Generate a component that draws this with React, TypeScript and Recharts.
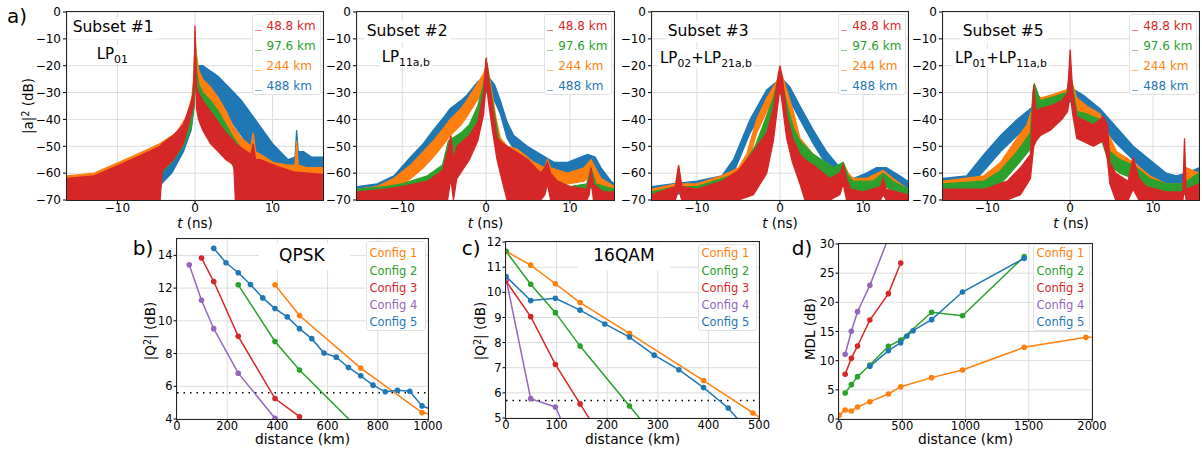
import React from "react";
import { ComposedChart, Area, Line, XAxis, YAxis, CartesianGrid, ReferenceLine } from "recharts";

type Band = [number, number, number][]; // [t, low dB, high dB]
type Pt = [number, number][]; // [distance km, value]

const BLUE = "#1f77b4";
const ORANGE = "#ff7f0e";
const GREEN = "#2ca02c";
const RED = "#d62728";
const PURPLE = "#9467bd";
const GRID = "#dcdcdc";

const distLabels = ["48.8 km", "97.6 km", "244 km", "488 km"];
const distColors = [RED, GREEN, ORANGE, BLUE];
const configLabels = ["Config 1", "Config 2", "Config 3", "Config 4", "Config 5"];
const configColors = [ORANGE, GREEN, RED, PURPLE, BLUE];

const tTicks = [-10, 0, 10];
const dbTicks = [-70, -60, -50, -40, -30, -20, -10, 0];
const qpskXTicks = [0, 200, 400, 600, 800, 1000];
const qpskYTicks = [4, 6, 8, 10, 12, 14];
const qamXTicks = [0, 100, 200, 300, 400, 500];
const qamYTicks = [5, 6, 7, 8, 9, 10, 11, 12];
const mdlXTicks = [0, 500, 1000, 1500, 2000];
const mdlYTicks = [0, 5, 10, 15, 20, 25, 30];

// ---- a) impulse response envelopes (low/high of the noisy traces) ----
const p1Blue: Band = [[-16.5,-70,-65],[-12,-70,-64],[-8,-69,-62],[-5,-66,-57],[-3,-60,-52],[-1.5,-52,-45],[-0.5,-44,-37],[-0.1,-35,-26],[0,-22,-12],[0.3,-30,-20],[1,-31,-20],[2,-32,-22],[3,-35,-24],[4,-38,-27],[5,-42,-30],[6,-46,-33],[7,-50,-37],[8,-54,-41],[9,-57,-45],[10,-59,-49],[11,-60,-52],[12,-61,-55],[12.9,-60,-54],[13.1,-58,-44],[13.3,-60,-52],[14,-60,-52],[15,-61,-54],[16.5,-61,-54]];
const p1Orange: Band = [[-16.5,-67,-61],[-13,-66,-60],[-9,-63,-55],[-6.7,-60,-52],[-4.5,-56,-49],[-2.4,-51,-45],[-1.1,-45,-39],[-0.4,-38,-32],[-0.1,-32,-22],[0,-15,-7],[0.15,-25,-15],[0.5,-32,-22],[1,-35,-25],[2,-37,-28],[3,-41,-32],[4,-46,-37],[5,-51,-43],[6,-54,-47],[7.2,-56,-50],[7.5,-54,-45],[7.8,-57,-52],[9,-60,-54],[10,-62,-56],[12,-63,-57],[12.9,-63,-57],[13.1,-62,-48],[13.3,-63,-57],[14.5,-64,-58],[16.5,-65,-58]];
const p1Green: Band = [[-16.5,-70,-66],[-12,-70,-66],[-8,-68,-63],[-5,-62,-56],[-3,-56,-49],[-1.5,-50,-44],[-0.5,-43,-37],[-0.1,-34,-24],[0,-18,-9],[0.2,-30,-22],[0.5,-36,-27],[1,-38,-30],[2,-42,-33],[3,-47,-37],[4,-52,-42],[5,-58,-47],[6,-62,-51],[7,-65,-54],[8,-68,-57],[10,-70,-59],[12,-70,-60],[14,-69,-60],[16.5,-68,-61]];
const p1Red: Band = [[-16.5,-70,-62],[-13,-70,-61],[-9,-70,-56],[-6.7,-70,-53],[-4.5,-70,-50],[-4.2,-59,-49],[-2.8,-55,-46],[-1.5,-49,-42],[-0.65,-40,-35],[-0.2,-35,-30],[-0.05,-25,-15],[0,-12,-5],[0.05,-25,-15],[0.2,-36,-28],[0.45,-40,-30],[1,-44,-33],[2,-49,-37],[3,-52,-41],[4,-55,-45],[5,-57,-48],[5.2,-70,-49],[6.2,-70,-51],[7.2,-70,-53],[7.5,-70,-49],[7.8,-70,-55],[8.4,-70,-55],[10.6,-70,-57.5],[12.7,-70,-59.5],[16.5,-70,-60.5]];

const p2Blue: Band = [[-15.4,-70,-65],[-13,-69,-64],[-11,-66,-61],[-9,-60,-54],[-7.5,-55,-49],[-6.3,-50,-44],[-5,-45,-39],[-4.3,-42,-36],[-3,-38,-33],[-2.3,-36,-31],[-1,-31,-26],[0,-30,-24],[0.5,-30,-25],[1,-33,-27],[1.7,-38,-33],[2.5,-47,-41],[3.3,-51,-46],[4.9,-55,-50],[6.5,-58,-53],[8.1,-61,-56],[9.7,-61,-56],[11.3,-59,-54],[12.1,-59,-53],[13,-60,-54],[13.7,-63,-58],[14.9,-67,-63],[15.3,-68,-64]];
const p2Orange: Band = [[-15.4,-70,-66],[-13,-69,-65],[-11,-67,-62],[-9,-62,-57],[-7.5,-58,-52],[-6.3,-54,-48],[-5,-49,-43],[-4.3,-46,-40],[-3,-42,-36],[-2.3,-39,-33],[-1.1,-33,-27],[-0.3,-29,-23],[0.1,-26,-19],[0.6,-34,-28],[1.2,-46,-40],[1.7,-53,-47],[2.5,-55,-50],[3.7,-57,-51],[5.7,-61,-56],[7,-62,-58],[7.3,-60,-55],[7.7,-62,-58],[9.7,-64,-60],[11.7,-63,-58],[12.5,-61,-55],[13.2,-64,-59],[13.7,-67,-62],[15.3,-68,-65]];
const p2Green: Band = [[-15.4,-70,-66],[-12,-69,-65],[-10,-68,-64],[-7,-66,-61],[-5.2,-62,-57],[-4.5,-56,-48],[-3,-51,-45],[-2,-48,-42],[-1,-42,-35],[-0.3,-34,-27],[0.1,-27,-19],[0.5,-35,-28],[1,-44,-38],[1.5,-52,-47],[2,-56,-51],[4,-60,-55],[6,-64,-59],[7,-64,-60],[7.3,-62,-56],[7.7,-65,-61],[8.5,-67,-63],[10,-68,-65],[12,-68,-64],[12.5,-65,-58],[13.1,-68,-64],[15.3,-69,-66]];
const p2Red: Band = [[-15.4,-70,-67],[-12,-70,-66],[-10,-70,-65],[-7,-70,-63],[-5.2,-70,-59],[-4.6,-70,-52],[-4.2,-62,-46],[-3.9,-70,-55],[-3.5,-62,-50],[-2,-55,-46],[-1,-48,-41],[-0.3,-38,-30],[0,-26,-17],[0.3,-34,-25],[0.8,-45,-36],[1.3,-55,-47],[2,-64,-49],[2.5,-70,-50],[3,-70,-51],[4,-70,-53],[5,-70,-55],[6.5,-70,-60],[7,-68,-58],[7.3,-64,-56],[7.7,-70,-60],[8.5,-70,-63],[10,-70,-65],[12,-70,-66],[12.3,-68,-62],[12.5,-62,-58],[12.8,-70,-64],[14,-70,-67],[15.3,-70,-67]];

const p3Blue: Band = [[-15.4,-69,-65],[-13,-68,-64],[-10,-67,-63],[-7,-65,-61],[-5.6,-60,-55],[-3.6,-45,-40],[-1.6,-34,-29],[-0.4,-31,-26],[0.3,-30,-25],[1.2,-33,-28],[2.4,-40,-35],[4,-49,-44],[5.6,-57,-52],[7.2,-63,-58],[8.8,-66,-62],[10.4,-65,-60],[11.6,-63,-58],[12.8,-63,-58],[14.4,-66,-61],[15.4,-67,-63]];
const p3Orange: Band = [[-15.4,-70,-66],[-12.5,-68,-64],[-12.2,-64,-58],[-11.9,-68,-64],[-10,-68,-64],[-7,-66,-61],[-5,-63,-58],[-4,-58,-53],[-2.8,-45,-40],[-1.6,-37,-32],[-0.4,-31,-26],[0.1,-28,-22],[0.8,-34,-29],[1.6,-42,-37],[2.4,-52,-47],[4,-58,-53],[6.4,-63,-58],[7.3,-61,-57],[7.6,-60,-56],[8.2,-64,-60],[8.8,-66,-62],[10.4,-66,-62],[12.4,-63,-59],[13.6,-66,-62],[15.4,-69,-66]];
const p3Green: Band = [[-15.4,-70,-67],[-12.5,-69,-65],[-12.2,-64,-58],[-11.9,-69,-65],[-10,-69,-65],[-7,-67,-62],[-5,-64,-60],[-3,-55,-50],[-2,-47,-42],[-0.8,-38,-32],[0,-29,-23],[0.8,-40,-34],[1.6,-49,-43],[2.4,-54,-48],[4,-59,-53],[6.4,-63,-58],[7.6,-60,-56],[8.2,-65,-61],[8.8,-67,-63],[11.2,-67,-63],[12.4,-64,-60],[13.6,-67,-63],[15.4,-69,-66]];
const p3Red: Band = [[-15.4,-70,-68],[-12.6,-70,-65],[-12.2,-66,-57],[-11.8,-70,-65],[-10,-70,-66],[-7,-70,-63],[-5,-70,-59],[-3.2,-68,-52],[-1.6,-60,-45],[-0.8,-48,-36],[-0.2,-33,-23],[0,-27,-20],[0.3,-35,-25],[0.8,-47,-38],[1.5,-56,-47],[2.4,-64,-53],[3,-70,-55],[4,-70,-57],[6,-70,-62],[7.2,-68,-60],[7.6,-64,-57],[8,-70,-62],[8.5,-70,-66],[10,-70,-67],[12.1,-70,-65],[12.4,-68,-62],[12.8,-70,-66],[15.4,-70,-68]];

const p4Blue: Band = [[-15.35,-67,-62],[-12.5,-66,-61],[-10.4,-59,-53],[-8.4,-52,-46],[-6.4,-46,-40],[-4.4,-40,-35],[-2.4,-37,-32],[-0.4,-35,-30],[0,-33,-27],[0.5,-35,-29],[1.6,-37,-31],[3.6,-42,-36],[5.6,-49,-43],[7.6,-55,-50],[9.6,-61,-55],[11.6,-65,-60],[12.8,-66,-61],[14,-65,-60],[15.55,-63,-58]];
const p4Orange: Band = [[-15.35,-68,-63],[-10.4,-66,-61],[-8.4,-61,-56],[-6.4,-53,-47],[-5.2,-47,-42],[-4.6,-42,-36],[-4.4,-36,-30],[-3.5,-37,-32],[-2.4,-36,-31],[-0.4,-34,-29],[0,-30,-24],[0.4,-34,-28],[0.8,-37,-32],[2,-40,-35],[3.6,-43,-38],[4.4,-50,-44],[5.6,-57,-52],[7.6,-61,-56],[9.6,-66,-61],[11.6,-68,-64],[13.6,-68,-64],[14,-66,-58],[15.55,-65,-60]];
const p4Green: Band = [[-15.35,-69,-64],[-10.4,-68,-63],[-8.4,-64,-59],[-6.4,-57,-52],[-4.8,-51,-45],[-4.5,-45,-30],[-4.3,-38,-27],[-3.6,-38,-33],[-2.4,-37,-32],[-0.4,-35,-30],[0,-30,-22],[0.4,-36,-30],[0.8,-42,-37],[2,-43,-38],[3.6,-46,-40],[4.8,-57,-52],[6,-60,-55],[7.6,-62,-57],[9.6,-67,-62],[11.6,-68,-64],[13.6,-68,-64],[15.55,-66,-60]];
const p4Red: Band = [[-15.35,-70,-66],[-10.4,-70,-66],[-7.6,-70,-63],[-6,-68,-58],[-4.8,-62,-53],[-4.4,-50,-27],[-4.1,-48,-37],[-3.6,-46,-36],[-2.4,-44,-35],[-1,-40,-33],[-0.3,-37,-30],[0,-30,-14],[0.3,-38,-30],[0.8,-47,-39],[2.8,-50,-42],[4,-48,-39],[4.5,-55,-42],[4.8,-64,-56],[5.5,-70,-60],[6,-70,-61],[7,-70,-63],[7.6,-66,-54],[8.3,-70,-62],[9.2,-70,-65],[11.6,-70,-67],[13.6,-70,-67],[13.8,-66,-47],[14,-70,-66],[15.55,-70,-64]];

// ---- b) QPSK ----
const qpsk1: Pt = [[390.4,12.2],[488,10.32],[732,7.11],[976,4.39],[1220,3.77]];
const qpsk2: Pt = [[244,12.2],[390.4,8.74],[488,6.99],[732,3.27]];
const qpsk3: Pt = [[97.6,13.84],[146.4,12.4],[244,9.05],[390.4,5.25],[488,4.14]];
const qpsk4: Pt = [[48.8,13.43],[97.6,11.26],[146.4,9.52],[244,6.8],[390.4,4.05]];
const qpsk5: Pt = [[146.4,14.43],[195.2,13.55],[244,12.94],[292.8,12.22],[341.6,11.4],[390.4,10.75],[439.2,10.24],[488,9.52],[536.8,8.91],[585.6,8.03],[634.4,7.78],[683.2,7.15],[732,6.64],[780.8,6.07],[829.6,5.66],[878.4,5.76],[927.2,5.7],[976,4.8],[1024.8,4.52]];

// ---- c) 16QAM ----
const qam1: Pt = [[0,11.63],[48.8,11.08],[97.6,10.34],[146.4,9.59],[244,8.37],[390.4,6.49],[488,5.2],[536.8,4.56]];
const qam2: Pt = [[0,11.63],[48.8,10.32],[97.6,9.19],[146.4,7.86],[244,5.48],[292.8,4.29]];
const qam3: Pt = [[0,10.45],[48.8,9.03],[97.6,7.13],[146.4,5.56],[195.2,4.0]];
const qam4: Pt = [[0,10.55],[48.8,5.77],[97.6,5.44],[146.4,3.29]];
const qam5: Pt = [[0,10.63],[48.8,9.67],[97.6,9.76],[146.4,9.29],[195.2,8.74],[244,8.22],[292.8,7.5],[341.6,6.92],[390.4,6.21],[439.2,5.4],[488,4.25]];

// ---- d) MDL ----
const mdl1: Pt = [[0,0.63],[48.8,1.54],[97.6,1.37],[146.4,2.06],[244,2.97],[390.4,4.29],[488,5.54],[732,7.09],[976,8.4],[1464,12.29],[1952,14.0],[2440,14.4]];
const mdl2: Pt = [[48.8,4.46],[97.6,5.89],[146.4,7.26],[244,9.26],[390.4,12.46],[488,13.54],[732,18.29],[976,17.71],[1464,27.83]];
const mdl3: Pt = [[48.8,7.66],[97.6,10.4],[146.4,12.51],[244,16.97],[390.4,21.49],[488,26.74]];
const mdl4: Pt = [[48.8,11.09],[97.6,15.03],[146.4,18.4],[244,22.91],[390.4,31.0]];
const mdl5: Pt = [[244,9.03],[390.4,11.71],[488,13.09],[536.8,14.23],[585.6,15.14],[732,17.03],[976,21.77],[1464,27.54]];

const fmt = (v: number) => (v < 0 ? `\u2212${Math.abs(v)}` : `${v}`);
const tickStyle = { fontSize: 12, fill: "#000" };
const bottomTick = { fontSize: 11.5, fill: "#000" };

function Txt({ x, base, size, color = "#000", bg, pad = 0, children }: any) {
  return (
    <div
      style={{
        position: "absolute",
        left: x - pad,
        top: base - 0.846 * size - pad,
        fontSize: size,
        lineHeight: 1,
        color,
        whiteSpace: "nowrap",
        background: bg,
        padding: pad,
      }}
    >
      {children}
    </div>
  );
}

function Box({ l, t, r, b, border }: any) {
  return (
    <div
      style={{
        position: "absolute",
        left: l,
        top: t,
        width: r - l,
        height: b - t,
        background: "#fff",
        border: border ? "1px solid #e2e2e2" : "none",
        borderRadius: 3,
        boxSizing: "border-box",
      }}
    />
  );
}

function Frame({ l, t, r, b }: any) {
  return (
    <div
      style={{
        position: "absolute",
        left: l - 1,
        top: t - 1,
        width: r - l,
        height: b - t,
        border: "1px solid #222",
        pointerEvents: "none",
      }}
    />
  );
}

function Center({ cx, cy, size, rotate, children }: any) {
  return (
    <div
      style={{
        position: "absolute",
        left: cx,
        top: cy,
        fontSize: size,
        lineHeight: 1,
        whiteSpace: "nowrap",
        transform: `translate(-50%, -50%)${rotate ? " rotate(-90deg)" : ""}`,
      }}
    >
      {children}
    </div>
  );
}

const Sub = ({ children }: any) => (
  <span style={{ fontSize: "0.72em", position: "relative", top: "0.3em" }}>{children}</span>
);
const Sup = ({ children }: any) => (
  <span style={{ fontSize: "0.72em", position: "relative", top: "-0.45em" }}>{children}</span>
);

function TopPanel({ left, right, domain, bands }: { left: number; right: number; domain: [number, number]; bands: Band[] }) {
  const w = right - left;
  const colors = [BLUE, ORANGE, GREEN, RED];
  return (
    <div style={{ position: "absolute", left: left - 50, top: 0 }}>
      <ComposedChart width={w + 53} height={235} margin={{ top: 12, right: 3, bottom: 0, left: 0 }}>
        <CartesianGrid stroke={GRID} />
        <XAxis type="number" dataKey="t" domain={domain} allowDataOverflow ticks={tTicks} interval={0} height={35}
          axisLine={false} tickSize={3.5} tickMargin={0} tickLine={{ stroke: "#000" }} tick={tickStyle} tickFormatter={fmt} />
        <YAxis type="number" domain={[-70, 0]} allowDataOverflow ticks={dbTicks} interval={0} width={50}
          axisLine={false} tickSize={4} tickMargin={2} tickLine={{ stroke: "#000" }} tick={tickStyle} tickFormatter={fmt} />
        {bands.map((b, i) => (
          <Area key={i} data={b.map(([t, lo, hi]) => ({ t, v: [lo, hi] }))} dataKey="v" type="linear"
            stroke={colors[i]} strokeWidth={1.3} fill={colors[i]} fillOpacity={1} dot={false} activeDot={false}
            isAnimationActive={false} />
        ))}
      </ComposedChart>
    </div>
  );
}

function BottomPanel({ left, top, w, h, xDomain, xTicks, yDomain, yTicks, lines, refY }: any) {
  return (
    <div style={{ position: "absolute", left: left - 40, top: top - 12 }}>
      <ComposedChart width={w + 60} height={h + 42} margin={{ top: 12, right: 20, bottom: 0, left: 0 }}>
        <CartesianGrid stroke={GRID} />
        <XAxis type="number" dataKey="x" domain={xDomain} allowDataOverflow ticks={xTicks} interval={0} height={30}
          axisLine={false} tickSize={3} tickMargin={0} tickLine={{ stroke: "#000" }} tick={bottomTick} />
        <YAxis type="number" domain={yDomain} allowDataOverflow ticks={yTicks} interval={0} width={40}
          axisLine={false} tickSize={3.5} tickMargin={1} tickLine={{ stroke: "#000" }} tick={bottomTick} />
        {refY != null && <ReferenceLine y={refY} stroke="#000" strokeWidth={1.5} strokeDasharray="1.5 5" />}
        {lines.map((pts: Pt, i: number) => (
          <Line key={i} data={pts.map(([x, y]) => ({ x, y }))} dataKey="y" type="linear" stroke={configColors[i]}
            strokeWidth={1.5} dot={{ r: 2.8, fill: configColors[i], stroke: configColors[i], strokeWidth: 0 }}
            activeDot={false} isAnimationActive={false} />
        ))}
      </ComposedChart>
    </div>
  );
}

const topPanels = [
  { left: 67, right: 323, domain: [-16.5, 16.5] as [number, number], bands: [p1Blue, p1Orange, p1Green, p1Red] },
  { left: 357, right: 614, domain: [-15.4, 15.25] as [number, number], bands: [p2Blue, p2Orange, p2Green, p2Red] },
  { left: 652, right: 908, domain: [-15.4, 15.4] as [number, number], bands: [p3Blue, p3Orange, p3Green, p3Red] },
  { left: 943, right: 1199, domain: [-15.35, 15.55] as [number, number], bands: [p4Blue, p4Orange, p4Green, p4Red] },
];

const topTitles = [
  { sx: 72.7, sb: 33.5, title: "Subset #1", lx: 96.7, lb: 60, mode: <>LP<Sub>01</Sub></> },
  { sx: 366.7, sb: 37, title: "Subset #2", lx: 381.7, lb: 63, mode: <>LP<Sub>11a,b</Sub></> },
  { sx: 667.7, sb: 37, title: "Subset #3", lx: 660, lb: 64, mode: <>LP<Sub>02</Sub>+LP<Sub>21a,b</Sub></> },
  { sx: 962.7, sb: 37.5, title: "Subset #5", lx: 955, lb: 64, mode: <>LP<Sub>01</Sub>+LP<Sub>11a,b</Sub></> },
];
const legendHandleX = [255, 546.7, 840.7, 1131.7];
const legendRows = [26, 46, 66, 86];
const cfgRows = [254, 271.2, 288.4, 305.6, 322.8];

export default function App() {
  return (
    <div style={{ position: "absolute", left: 0, top: 0, width: 1202, height: 450, background: "#fff", overflow: "hidden", fontFamily: '"DejaVu Sans", sans-serif', color: "#000" }}>
      {topPanels.map((p, i) => (
        <TopPanel key={i} {...p} />
      ))}
      <BottomPanel left={177} top={239} w={251} h={180} xDomain={[0, 1000]} xTicks={qpskXTicks} yDomain={[4, 15]} yTicks={qpskYTicks}
        lines={[qpsk1, qpsk2, qpsk3, qpsk4, qpsk5]} refY={5.6} />
      <BottomPanel left={506} top={242} w={253} h={176} xDomain={[0, 500]} xTicks={qamXTicks} yDomain={[5, 12]} yTicks={qamYTicks}
        lines={[qam1, qam2, qam3, qam4, qam5]} refY={5.7} />
      <BottomPanel left={839} top={244} w={253} h={175} xDomain={[0, 2000]} xTicks={mdlXTicks} yDomain={[0, 30]} yTicks={mdlYTicks}
        lines={[mdl1, mdl2, mdl3, mdl4, mdl5]} />

      {/* top row annotations */}
      {topTitles.map((t, i) => (
        <React.Fragment key={i}>
          <Txt x={t.sx} base={t.sb} size={15.5} bg="#fff" pad={3}>{t.title}</Txt>
          <Txt x={t.lx} base={t.lb} size={15} bg="#fff" pad={2}>{t.mode}</Txt>
        </React.Fragment>
      ))}
      {topPanels.map((p, i) => (
        <React.Fragment key={"lg" + i}>
          <Box l={legendHandleX[i] - 3} t={14} r={p.right - 2} b={95} border />
          {distLabels.map((lab, j) => (
            <React.Fragment key={j}>
              <div style={{ position: "absolute", left: legendHandleX[i], top: legendRows[j] + 3.6, width: 6.5, height: 1.4, background: distColors[j], opacity: 0.55 }} />
              <Txt x={legendHandleX[i] + 11.5} base={legendRows[j] + 4.4} size={12} color={distColors[j]}>{lab}</Txt>
            </React.Fragment>
          ))}
        </React.Fragment>
      ))}
      {topPanels.map((p, i) => (
        <Center key={"xl" + i} cx={(p.left + p.right) / 2} cy={224} size={13.5}><i>t</i> (ns)</Center>
      ))}
      <Center cx={28.5} cy={106} size={13.5} rotate>|a|<Sup>2</Sup> (dB)</Center>
      <Txt x={7} base={22.7} size={20}>a)</Txt>

      {/* bottom row annotations */}
      <Box l={259} t={243} r={350} b={270} />
      <Txt x={279} base={261.7} size={17}>QPSK</Txt>
      <Box l={578} t={245} r={670} b={270} />
      <Txt x={593.3} base={261.7} size={17}>16QAM</Txt>
      {[366, 698, 1033].map((bx, i) => (
        <React.Fragment key={"cl" + i}>
          <Box l={bx} t={241 + (i === 0 ? 0 : 3)} r={[426, 757, 1090][i]} b={331} border />
          {configLabels.map((lab, j) => (
            <Txt key={j} x={bx + 3.5} base={cfgRows[j] + 4.2} size={11.5} color={configColors[j]}>{lab}</Txt>
          ))}
        </React.Fragment>
      ))}
      <Center cx={302.5} cy={440} size={13.8}>distance (km)</Center>
      <Center cx={632.5} cy={440} size={13.8}>distance (km)</Center>
      <Center cx={965.5} cy={440} size={13.8}>distance (km)</Center>
      <Center cx={151} cy={331} size={13.5} rotate>|Q<Sup>2</Sup>| (dB)</Center>
      <Center cx={481} cy={331} size={13.5} rotate>|Q<Sup>2</Sup>| (dB)</Center>
      <Center cx={811} cy={329} size={13.5} rotate>MDL (dB)</Center>
      <Txt x={132.7} base={255} size={20}>b)</Txt>
      <Txt x={461.7} base={255} size={20}>c)</Txt>
      <Txt x={791.7} base={255} size={20}>d)</Txt>

      {/* axis frames */}
      {topPanels.map((p, i) => (
        <Frame key={"fr" + i} l={p.left} t={12} r={p.right} b={200} />
      ))}
      <Frame l={177} t={239} r={428} b={419} />
      <Frame l={506} t={242} r={759} b={418} />
      <Frame l={839} t={244} r={1092} b={419} />
    </div>
  );
}
